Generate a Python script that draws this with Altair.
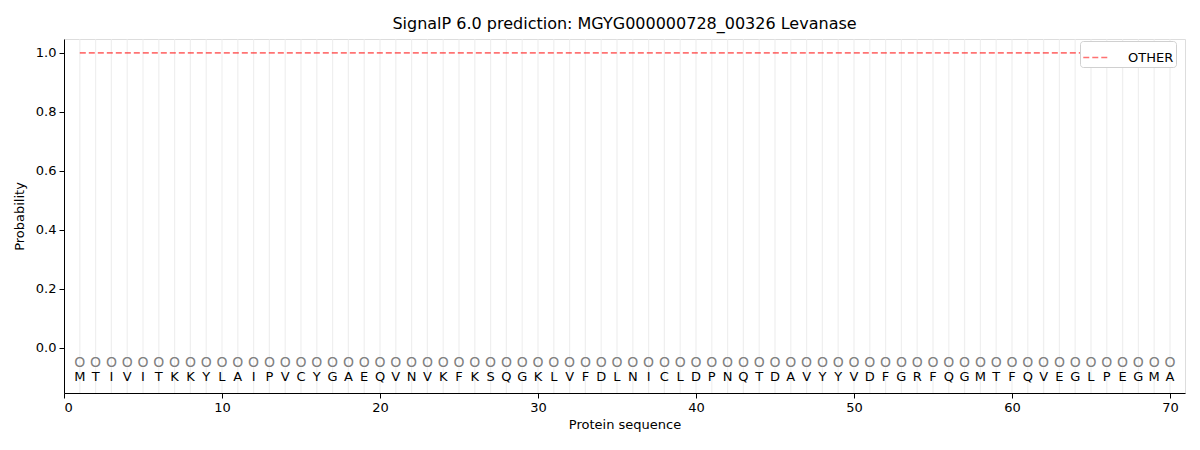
import altair as alt
import pandas as pd

sequence = list("MTIVITKKYLAIPVCYGAEQVNVKFKSQGKLVFDLNICLDPNQTDAVYYVDFGRFQGMTFQVEGLPEGMA")
positions = list(range(1, len(sequence) + 1))
other_prob = [1.0] * len(sequence)
labels = ["O"] * len(sequence)

x_ticks = [0, 10, 20, 30, 40, 50, 60, 70]
y_ticks = [0.0, 0.2, 0.4, 0.6, 0.8, 1.0]

df = pd.DataFrame({
    "pos": positions,
    "aa": sequence,
    "lab": labels,
    "prob": other_prob,
    "series": ["OTHER"] * len(sequence),
    "o_y": [-0.05] * len(sequence),
    "aa_y": [-0.1] * len(sequence),
})

W, H = 1121, 354
FONT = "DejaVu Sans"

xscale = alt.Scale(domain=[0, 70.95], nice=False, zero=False)
yscale = alt.Scale(domain=[-0.153, 1.047], nice=False, zero=False)

base = alt.Chart(df)

grid = base.mark_rule(color="#ebebeb", strokeWidth=1.2, opacity=0.8).encode(
    x=alt.X("pos:Q", scale=xscale,
            axis=alt.Axis(values=x_ticks, title="Protein sequence", grid=False,
                          labelFont=FONT, titleFont=FONT, labelFontSize=13,
                          titleFontSize=13, titleFontWeight="normal",
                          tickColor="black", domainColor="black", labelColor="black",
                          titleColor="black", tickSize=5, labelPadding=3, titlePadding=4)),
    y=alt.value(0),
    y2=alt.value(H),
)

line = base.mark_line(strokeDash=[6, 3], strokeWidth=1.6, opacity=0.55).encode(
    x=alt.X("pos:Q", scale=xscale),
    y=alt.Y("prob:Q", scale=yscale,
            axis=alt.Axis(values=y_ticks, format=".1f", title="Probability", grid=False,
                          labelFont=FONT, titleFont=FONT, labelFontSize=13,
                          titleFontSize=13, titleFontWeight="normal",
                          tickColor="black", domainColor="black", labelColor="black",
                          titleColor="black", tickSize=5, labelPadding=3, titlePadding=9)),
    color=alt.Color("series:N",
                    scale=alt.Scale(domain=["OTHER"], range=["red"]),
                    legend=alt.Legend(title=None, orient="none", legendX=1016, legendY=2,
                                      symbolType="stroke", symbolDash=[6, 3],
                                      symbolStrokeWidth=1.6, symbolOpacity=0.55,
                                      symbolSize=700, labelOffset=17,
                                      labelFont=FONT, labelFontSize=13, labelColor="black",
                                      fillColor="white", strokeColor="#d0d0d0",
                                      cornerRadius=3, padding=2)),
)

o_text = base.mark_text(font=FONT, fontSize=14, color="#808080").encode(
    x=alt.X("pos:Q", scale=xscale),
    y=alt.Y("o_y:Q", scale=yscale),
    text="lab:N",
)

aa_text = base.mark_text(font=FONT, fontSize=13, color="black").encode(
    x=alt.X("pos:Q", scale=xscale),
    y=alt.Y("aa_y:Q", scale=yscale),
    text="aa:N",
)

chart = alt.layer(grid, line, o_text, aa_text).properties(
    width=W, height=H,
    title=alt.Title("SignalP 6.0 prediction: MGYG000000728_00326 Levanase",
                    font=FONT, fontSize=16, fontWeight="normal", color="black", offset=6),
    autosize=alt.AutoSizeParams(type="none"),
    padding={"left": 56, "top": 31, "right": 7, "bottom": 50},
).configure_view(stroke="black", strokeWidth=1.2).configure(background="white")

chart.save("out.html", embed_options={"renderer": "svg", "actions": False})
